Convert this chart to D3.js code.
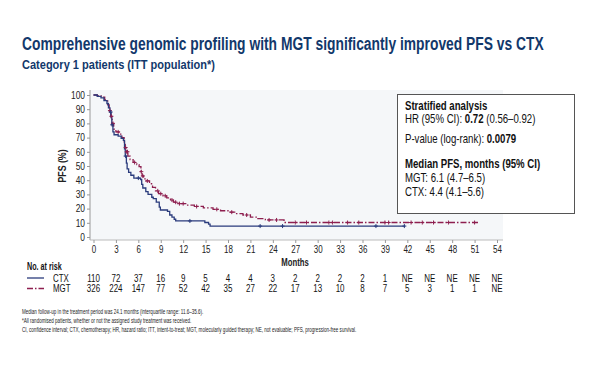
<!DOCTYPE html>
<html><head><meta charset="utf-8">
<script src="https://cdn.jsdelivr.net/npm/d3@7"></script>
<style>
body{margin:0;background:#fff;}
svg{display:block;}
text{font-family:"Liberation Sans",Arial,sans-serif;}
</style></head><body>
<svg id="c" width="600" height="365"></svg>
<script>
// ---- data ----
const ctxTime = [0,0.5,1.0,1.4,1.8,2.0,2.2,2.35,2.45,2.6,2.75,3.3,3.7,4.0,4.15,4.25,4.4,4.5,4.7,5.0,5.4,6.3,6.45,6.6,7.0,7.3,7.8,8.0,8.4,8.8,8.95,9.9,10.2,10.5,10.8,11.0,14.9,15.4,15.6,41.7];
const ctxSurv = [100,99,98,96,94,91,88,84,79,74,72,71,69.5,68,62,57,52,48,45.5,43.5,41.5,40.5,37,34.5,32,30,28,27,24.5,21,19,18,15.5,14,12.5,11.3,10.2,9,7.7,7.7];
const mgtTime = [0,0.5,1.0,1.5,1.9,2.1,2.3,2.5,2.7,3.0,3.4,3.8,4.1,4.25,4.4,4.6,4.9,5.3,5.8,6.1,6.35,6.5,6.7,7.0,7.5,7.9,8.3,8.7,9.3,9.8,10.3,10.7,11.3,12.5,13.5,14.7,16.0,17.0,18.0,19.0,20.0,21.0,22.0,23.0,25.5,51.7];
const mgtSurv = [100,99.5,98.5,96.5,93,89,85,80,76,74,72.5,70,67,63,60,57,54.5,52.5,51,49.5,46,43,41,39.5,37.5,35,32.5,30.5,29,27.5,26,24.5,23.5,22.5,21.5,20.5,19.5,18.5,17.5,16.5,15.5,14,13,12,10.2,10.2];
const ctxCensor = [2.3,2.5,4.3,6.0,12.9,22.3,25.3,37.8,41.6];
const mgtCensor = [2.2,2.4,2.6,3.3,4.3,4.45,4.55,5.5,6.4,6.6,7.2,8.6,9.0,9.6,10.5,11.0,11.5,12.0,13.8,16.5,18.5,20.5,23.5,24.5,27.0,28.5,31.5,32.0,34.0,35.5,39.0,39.5,42.5,44.0,45.5,47.5,51.0];
const xTicks = [0,3,6,9,12,15,18,21,24,27,30,33,36,39,42,45,48,51,54];
const yTicks = [0,10,20,30,40,50,60,70,80,90,100];
const riskCTX = ["110","72","37","16","9","5","4","4","3","2","2","2","2","1","NE","NE","NE","NE","NE"];
const riskMGT = ["326","224","147","77","52","42","35","27","22","17","13","10","8","7","5","3","1","1","NE"];
const title = "Comprehensive genomic profiling with MGT significantly improved PFS vs CTX";
const subtitle = "Category 1 patients (ITT population*)";
const footnotes = [
 "Median follow-up in the treatment period was 24.1 months (interquartile range: 11.6–35.6).",
 "*All randomised patients, whether or not the assigned study treatment was received.",
 "CI, confidence interval; CTX, chemotherapy; HR, hazard ratio; ITT, intent-to-treat; MGT, molecularly guided therapy; NE, not evaluable; PFS, progression-free survival."
];

const CTX_COL = "#2a3b7c", MGT_COL = "#8e1f4f", NAVY = "#12386b";
const svg = d3.select("#c");
const x = d3.scaleLinear().domain([0,54]).range([93.5,497]);
const y = d3.scaleLinear().domain([0,100]).range([237,95]);

// horizontally condense text around its x anchor
function narrow(sel, sx){
  sel.each(function(){
    const t=d3.select(this); const x0=+t.attr("x")||0;
    t.attr("transform",`translate(${x0*(1-sx)},0) scale(${sx},1)`);
  });
}
function fit(sel, w){
  const len = sel.node().getComputedTextLength();
  narrow(sel, w/len);
  return w/len;
}

// title
fit(svg.append("text").attr("x",22).attr("y",50).attr("fill",NAVY).attr("font-weight","bold")
  .attr("font-size",19).text(title), 522);
fit(svg.append("text").attr("x",22).attr("y",69).attr("fill",NAVY).attr("font-weight","bold")
  .attr("font-size",13).text(subtitle), 193);

// plot bg
svg.append("rect").attr("x",90).attr("y",90).attr("width",413).attr("height",150).attr("fill","#f5f7f9");

// axes
const yAxis = d3.axisLeft(y).tickValues(yTicks).tickSize(3).tickPadding(2);
const gy = svg.append("g").attr("transform","translate(90,0)").call(yAxis);
gy.select(".domain").attr("stroke","#999").attr("d","M0,90V240");
gy.selectAll(".tick line").attr("stroke","#999");
gy.selectAll("text").attr("font-size",10.5).attr("fill","#222").attr("font-family",null);
narrow(gy.selectAll("text"),0.8);

const xAxis = d3.axisBottom(x).tickValues(xTicks).tickSize(3).tickPadding(3);
const gx = svg.append("g").attr("transform","translate(0,240)").call(xAxis);
gx.select(".domain").attr("stroke","#bbb").attr("d","M90,0H503");
gx.selectAll(".tick line").attr("stroke","#999");
gx.selectAll("text").attr("font-size",10.5).attr("fill","#222").attr("font-family",null);
narrow(gx.selectAll("text"),0.76);

svg.append("text").attr("transform","translate(66,166) rotate(-90) scale(0.8,1)").attr("text-anchor","middle")
  .attr("font-weight","bold").attr("font-size",11).attr("fill","#222").text("PFS (%)");
narrow(svg.append("text").attr("x",295).attr("y",266).attr("text-anchor","middle")
  .attr("font-weight","bold").attr("font-size",10.5).attr("fill","#222").text("Months"),0.74);

// curves
const line = d3.line().x(d=>x(d[0])).y(d=>y(d[1])).curve(d3.curveStepAfter);
const ctxPts = ctxTime.map((t,i)=>[t,ctxSurv[i]]);
const mgtPts = mgtTime.map((t,i)=>[t,mgtSurv[i]]);
function survAt(times,surv,t){let s=surv[0];for(let i=0;i<times.length;i++){if(times[i]<=t)s=surv[i];}return s;}

svg.append("path").attr("d",line(mgtPts)).attr("fill","none").attr("stroke",MGT_COL)
  .attr("stroke-width",1.3).attr("stroke-dasharray","6,2,1.5,2");
svg.append("path").attr("d",line(ctxPts)).attr("fill","none").attr("stroke",CTX_COL).attr("stroke-width",1.3);

function censor(times,surv,list,col){
  svg.append("g").selectAll("path").data(list).join("path")
   .attr("d",t=>{const cx=x(t),cy=y(survAt(times,surv,t));return `M${cx-2},${cy}H${cx+2}M${cx},${cy-2}V${cy+2}`;})
   .attr("stroke",col).attr("stroke-width",1);
}
censor(mgtTime,mgtSurv,mgtCensor,MGT_COL);
censor(ctxTime,ctxSurv,ctxCensor,CTX_COL);

// stats box
svg.append("rect").attr("x",397.5).attr("y",94.5).attr("width",177).attr("height",119)
  .attr("fill","#fff").attr("stroke","#555").attr("stroke-width",1);
const bx=405, fs=12.5;
const box = [
  {y:110, parts:[["Stratified analysis","bold"]]},
  {y:123, parts:[["HR (95% CI): ","normal"],["0.72","bold"],[" (0.56–0.92)","normal"]]},
  {y:143, parts:[["P-value (log-rank): ","normal"],["0.0079","bold"]]},
  {y:168.5, parts:[["Median PFS, months (95% CI)","bold"]]},
  {y:182.5, parts:[["MGT: 6.1 (4.7–6.5)","normal"]]},
  {y:196.5, parts:[["CTX: 4.4 (4.1–5.6)","normal"]]}
];
box.forEach(r=>{
  const t = svg.append("text").attr("x",bx).attr("y",r.y).attr("font-size",fs).attr("fill","#111");
  r.parts.forEach(p=>t.append("tspan").attr("font-weight",p[1]).text(p[0]));
  narrow(t,0.77);
});

// number at risk
narrow(svg.append("text").attr("x",27).attr("y",270).attr("font-weight","bold").attr("font-size",10)
  .attr("fill","#111").text("No. at risk"),0.72);
svg.append("line").attr("x1",27).attr("x2",44).attr("y1",278).attr("y2",278).attr("stroke",CTX_COL).attr("stroke-width",1.3);
svg.append("line").attr("x1",27).attr("x2",44).attr("y1",288.5).attr("y2",288.5).attr("stroke",MGT_COL).attr("stroke-width",1.3).attr("stroke-dasharray","6,2,1.5,2");
narrow(svg.append("text").attr("x",53).attr("y",282).attr("font-size",10.5).attr("fill","#111").text("CTX"),0.75);
narrow(svg.append("text").attr("x",53).attr("y",292.5).attr("font-size",10.5).attr("fill","#111").text("MGT"),0.75);
narrow(svg.append("g").selectAll("text").data(riskCTX).join("text")
  .attr("x",(d,i)=>x(xTicks[i])).attr("y",282).attr("text-anchor","middle").attr("font-size",10.5).attr("fill","#111").text(d=>d),0.76);
narrow(svg.append("g").selectAll("text").data(riskMGT).join("text")
  .attr("x",(d,i)=>x(xTicks[i])).attr("y",292.5).attr("text-anchor","middle").attr("font-size",10.5).attr("fill","#111").text(d=>d),0.76);

// footnotes
const fn = svg.append("g").selectAll("text").data(footnotes).join("text")
  .attr("x",22).attr("y",(d,i)=>314+i*8.8).attr("font-size",6.3).attr("fill","#222").text(d=>d);
const l3 = fn.filter((d,i)=>i===2).node().getComputedTextLength();
narrow(fn, 335/l3);
</script></body></html>
